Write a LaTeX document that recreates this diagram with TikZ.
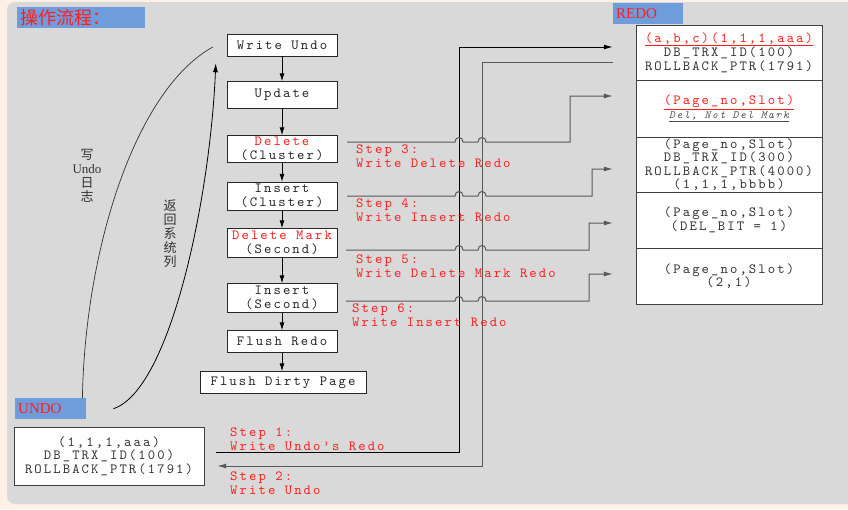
\documentclass[tikz,border=0pt]{standalone}
\usepackage{fontspec}
\newfontfamily\cjkfont{Noto Sans CJK SC}
\newfontfamily\tagfont{Liberation Serif}
\newfontfamily\monofam{lmmono10-regular}[Extension=.otf,ItalicFont=lmmono10-italic,LetterSpace=15]
\usetikzlibrary{arrows.meta}

\newcommand\boxfont{\monofam\fontsize{14}{13.5}\selectfont}

\tikzset{
  flowbox/.style={draw=black!85,fill=white,minimum width=110pt,align=center,inner sep=1pt,font=\boxfont,text=black!85},
  redocell/.style={draw=black!75,fill=white,minimum width=186pt,align=center,inner sep=1pt,font=\boxfont,text=black!80},
  steptext/.style={anchor=north west,align=left,inner sep=0pt,text=kRed,font=\boxfont},
  tagbox/.style={fill=kBlue,anchor=north west,inner xsep=3pt,inner ysep=0pt,minimum height=21pt,align=left,text=kRed},
  flowarrow/.style={-{Latex[length=8pt,width=5pt]},line width=0.9pt},
  stepline/.style={draw=black!65,line width=1pt},
  tip/.style={-{Latex[length=9pt,width=5pt]}}
}

\begin{document}
\begin{tikzpicture}[x=1pt,y=-1pt]
  \definecolor{kPeach}{RGB}{253,240,228}
  \definecolor{kGrey}{RGB}{217,217,217}
  \definecolor{kBlue}{RGB}{111,156,219}
  \definecolor{kRed}{RGB}{255,30,30}

  % background
  \useasboundingbox (0,0) rectangle (848,509);
  \fill[kPeach] (0,0) rectangle (848,509);
  \fill[kGrey,rounded corners=8pt] (7,2) rectangle (862,504);

  % tags
  \node[tagbox,minimum width=128pt,text width=122pt] (title) at (17,7)
    {\cjkfont\fontsize{18}{18}\selectfont 操作流程：};
  \node[tagbox,minimum width=70pt,text width=64pt] (redotag) at (613,3)
    {\tagfont\fontsize{15}{15}\selectfont REDO};
  \node[tagbox,minimum width=71pt,text width=65pt] (undotag) at (15,398)
    {\tagfont\fontsize{15}{15}\selectfont UNDO};

  % flow
  \node[flowbox,minimum height=22pt] (wundo) at (282,45) {Write Undo};
  \node[flowbox,minimum height=27pt] (update) at (282,95) {Update};
  \node[flowbox,minimum height=27pt] (delc) at (282,149) {\textcolor{kRed}{Delete}\\(Cluster)};
  \node[flowbox,minimum height=28pt] (insc) at (282,196) {Insert\\(Cluster)};
  \node[flowbox,minimum height=29pt] (delm) at (282,243) {\textcolor{kRed}{Delete Mark}\\(Second)};
  \node[flowbox,minimum height=29pt] (inss) at (282,298) {Insert\\(Second)};
  \node[flowbox,minimum height=22pt] (fredo) at (282,341.5) {Flush Redo};
  \node[flowbox,minimum height=22pt,minimum width=166pt] (fdirty) at (283,382.5) {Flush Dirty Page};

  \foreach \a/\b in {wundo/update,update/delc,delc/insc,insc/delm,delm/inss,inss/fredo,fredo/fdirty}
  {
    \draw[flowarrow] (\a.south) -- (\a.south |- \b.north);
  }

  % redo records
  \node[redocell,minimum height=55pt] (r1) at (729,52.5)
    {\textcolor{kRed}{\underline{(a,b,c)(1,1,1,aaa)}}\\DB\_TRX\_ID(100)\\ROLLBACK\_PTR(1791)};
  \node[redocell,minimum height=57pt] (r2) at (729,108.5)
    {\textcolor{kRed}{\underline{(Page\_no,Slot)}}\\
     {\fontsize{11}{12}\selectfont\itshape\color{black!70}\underline{Del, Not Del Mark}}};
  \node[redocell,minimum height=55pt] (r3) at (729,164.5)
    {(Page\_no,Slot)\\DB\_TRX\_ID(300)\\ROLLBACK\_PTR(4000)\\(1,1,1,bbbb)};
  \node[redocell,minimum height=56pt] (r4) at (729,220) {(Page\_no,Slot)\\(DEL\_BIT = 1)};
  \node[redocell,minimum height=56pt] (r5) at (729,276) {(Page\_no,Slot)\\(2,1)};

  % undo record
  \node[redocell,minimum width=190pt,minimum height=58pt] (undobox) at (109,456)
    {(1,1,1,aaa)\\DB\_TRX\_ID(100)\\ROLLBACK\_PTR(1791)};

  % ends of the step lines
  \coordinate (r1in) at ([xshift=-23pt,yshift=5.5pt]r1.west);
  \coordinate (r1out) at ([xshift=-23pt,yshift=-9.5pt]r1.west);
  \coordinate (r2in) at ([xshift=-23pt,yshift=12.5pt]r2.west);
  \coordinate (r3in) at ([xshift=-23pt,yshift=-4.5pt]r3.west);
  \coordinate (r4in) at ([xshift=-23pt,yshift=-3pt]r4.west);
  \coordinate (r5in) at ([xshift=-23pt,yshift=2pt]r5.west);
  \coordinate (s3) at ([xshift=10pt,yshift=7pt]delc.east);
  \coordinate (s4) at ([xshift=10pt]insc.east);
  \coordinate (s5) at ([xshift=9pt,yshift=-7pt]delm.east);
  \coordinate (s6) at ([xshift=9pt,yshift=-3pt]inss.east);
  \coordinate (u1) at ([xshift=12pt,yshift=4pt]undobox.east);
  \coordinate (u2) at ([xshift=13pt,yshift=-10pt]undobox.east);

  % step 1 and 2
  \draw[stepline,draw=black,tip] (u1) -| (459,47) -- (r1in);
  \draw[stepline,tip] (r1out) -| (482,466) -- (u2);

  % step 3 to 6, hopping over the long lines
  \foreach \s/\y/\bx/\r in {s3/142/570/r2in,s4/196/592/r3in,s5/250/589/r4in,s6/301/589/r5in}
  {
    \draw[stepline,tip] (\s) -- (455,\y) .. controls +(0,-6) and +(0,-6) .. (463,\y)
      -- (478,\y) .. controls +(0,-6) and +(0,-6) .. (486,\y) -- (\bx,\y) |- (\r);
  }

  \node[steptext] (t1) at (230,428) {Step 1:\\Write Undo’s Redo};
  \node[steptext] (t2) at (230,472) {Step 2:\\Write Undo};
  \node[steptext] (t3) at (356,145) {Step 3:\\Write Delete Redo};
  \node[steptext] (t4) at (356,199) {Step 4:\\Write Insert Redo};
  \node[steptext] (t5) at (356,255) {Step 5:\\Write Delete Mark Redo};
  \node[steptext] (t6) at (352,304) {Step 6:\\Write Insert Redo};

  % undo log curves
  \draw[line width=0.7pt,black!80] ([xshift=-4pt]undotag.north east)
    .. controls (85,250) and (135,90) .. ([xshift=-14pt,yshift=-2pt]wundo.west);
  \draw[line width=0.8pt,tip] ([xshift=27pt]undotag.east)
    .. controls (170,390) and (210,200) .. ([xshift=-11pt,yshift=-7pt]wundo.south west);

  \node[align=center,inner sep=0pt,text=black!80,font=\cjkfont\fontsize{13}{14}\selectfont] (lbl1) at (87,176)
    {写\\{\tagfont Undo}\\日\\志};
  \node[align=center,inner sep=0pt,text=black!80,font=\cjkfont\fontsize{13}{14}\selectfont] (lbl2) at (170,234)
    {返\\回\\系\\统\\列};
\end{tikzpicture}
\end{document}
